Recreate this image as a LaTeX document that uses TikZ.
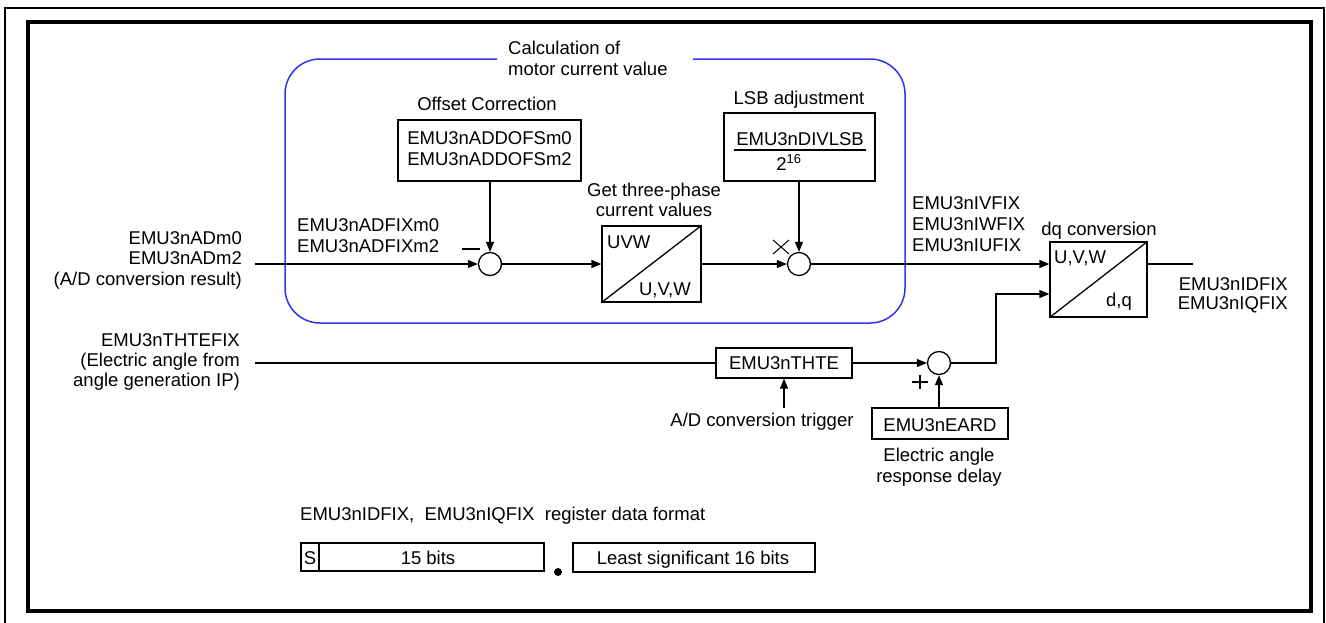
\documentclass[tikz,border=0pt]{standalone}
\usepackage{fontspec}
\setmainfont{Liberation Sans}
\usetikzlibrary{arrows.meta}
\definecolor{frameblue}{RGB}{50,50,235}
\begin{document}
\begin{tikzpicture}[x=1pt,y=-1pt,
  font=\fontsize{18.5}{21}\selectfont,
  lbl/.style={inner sep=0pt, anchor=base},
  lblw/.style={inner sep=0pt, anchor=base west},
  lble/.style={inner sep=0pt, anchor=base east},
  blk/.style={draw, line width=1.3pt, inner sep=0pt},
  sumc/.style={draw, circle, line width=1.3pt, minimum size=23pt, inner sep=0pt},
  con/.style={line width=1.3pt},
  arr/.style={con, -{Triangle[length=10pt,width=8pt]}},
]
\useasboundingbox (0,0) rectangle (1326,622);
% frames
\draw[line width=2pt] (5,650) -- (5,8) -- (1324,8) -- (1324,650);
\draw[line width=4pt] (28,22) rectangle (1311,611);
% blue group
\draw[frameblue, line width=1.5pt, rounded corners=35pt]
  (693,59) -- (905,59) -- (905,323) -- (285,323) -- (285,59) -- (497,59);
\node[lblw] (t1) at (508,54) {Calculation of};
\node[lblw] (t2) at (508,75) {motor current value};
% offset correction
\node[lbl] (ofst) at (487,110) {Offset Correction};
\node[blk, minimum width=183pt, minimum height=61pt] (ofs) at (489.5,150.5) {};
\node[lbl] (ofs1) at (489.5,144) {EMU3nADDOFSm0};
\node[lbl] (ofs2) at (489.5,165) {EMU3nADDOFSm2};
% LSB
\node[lbl] (lsbt) at (799,104) {LSB adjustment};
\node[blk, minimum width=151pt, minimum height=68pt] (lsb) at (799.5,147) {};
\node[lbl] (lsb1) at (800,145) {EMU3nDIVLSB};
\node[lbl] (lsb2) at (789,170) {2\textsuperscript{16}};
\draw[con] (734,150) -- (866,150);
% three-phase
\node[lbl] (gt1) at (654,196) {Get three-phase};
\node[lbl] (gt2) at (654,216) {current values};
\node[blk, minimum width=99pt, minimum height=76pt] (uvw) at (651.5,264) {};
\draw[con] (uvw.south west) -- (uvw.north east);
\node[lblw] (uvwa) at (607,248) {UVW};
\node[lble] (uvwb) at (691,295) {U,V,W};
% sums
\node[sumc] (s1) at (490,264) {};
\node[sumc] (s2) at (799,264) {};
\node[sumc] (s3) at (939,363) {};
% dq
\node[lbl] (dqt) at (1099,235) {dq conversion};
\node[blk, minimum width=97pt, minimum height=75pt] (dq) at (1098.5,279.5) {};
\draw[con] (dq.south west) -- (dq.north east);
\node[lblw] (dqa) at (1054,263) {U,V,W};
\node[lble] (dqb) at (1132,306) {d,q};
% input labels
\node[lble] (a1) at (242,244) {EMU3nADm0};
\node[lble] (a2) at (242,264) {EMU3nADm2};
\node[lble] (a3) at (242,285) {(A/D conversion result)};
\node[lblw] (f1) at (297,231.5) {EMU3nADFIXm0};
\node[lblw] (f2) at (297,252) {EMU3nADFIXm2};
\node[lblw] (v1) at (912,209) {EMU3nIVFIX};
\node[lblw] (v2) at (912,230) {EMU3nIWFIX};
\node[lblw] (v3) at (912,251) {EMU3nIUFIX};
\node[lble] (o1) at (1288,290) {EMU3nIDFIX};
\node[lble] (o2) at (1288,309) {EMU3nIQFIX};
\node[lble] (h1) at (240,346) {EMU3nTHTEFIX};
\node[lble] (h2) at (240,366.5) {(Electric angle from};
\node[lble] (h3) at (240,386.5) {angle generation IP)};
% angle path
\node[blk, minimum width=136pt, minimum height=30pt] (thte) at (784,363) {};
\node[lbl] (thtet) at (784,369) {EMU3nTHTE};
\node[lbl] (trig) at (762,426.5) {A/D conversion trigger};
\node[blk, minimum width=136pt, minimum height=31pt] (eard) at (940,423.5) {};
\node[lbl] (eardt) at (940,431) {EMU3nEARD};
\node[lbl] (e1) at (939,461.5) {Electric angle};
\node[lbl] (e2) at (939,482.5) {response delay};
% connectors
\coordinate (in1) at (255,264);
\coordinate (out) at (1193,264);
\coordinate (in2) at (255,363);
\coordinate (bend) at (996,294);
\coordinate (trigtop) at (784,408);
\draw[arr] (in1) -- (s1.west);
\draw[arr] (s1 |- ofs.south) -- (s1.north);
\draw[arr] (s1.east) -- (uvw.west);
\draw[arr] (uvw.east) -- (s2.west);
\draw[arr] (s2 |- lsb.south) -- (s2.north);
\draw[arr] (s2.east) -- (dq.west |- s2);
\draw[con] (dq.east |- s2) -- (out);
\draw[con] (in2) -- (thte.west);
\draw[arr] (thte.east) -- (s3.west);
\draw[arr] (s3.east) -| (bend) -- (dq.west |- bend);
\draw[arr] (trigtop) -- (thte.south);
\draw[arr] (s3 |- eard.north) -- (s3.south);
% signs
\draw[con] (462,249) -- (480,249);
\draw[line width=1pt] (773,240) -- (789,254) (773,254) -- (789,240);
\draw[line width=1.1pt] (912,382) -- (928,382) (920,375) -- (920,389);
% data format
\node[lblw] (fmt) at (300,520.5) {EMU3nIDFIX,\ \ EMU3nIQFIX\ \ register data format};
\node[blk, minimum width=18pt, minimum height=28pt] (sb) at (310,557) {};
\node[lbl] (sbt) at (310,564) {S};
\node[blk, minimum width=225pt, minimum height=28pt] (b15) at (431.5,557) {};
\node[lbl] (b15t) at (428,564) {15 bits};
\node[circle, fill, inner sep=0pt, minimum size=8pt] (dot) at (558,572) {};
\node[blk, minimum width=242pt, minimum height=29pt] (b16) at (694,557.5) {};
\node[lbl] (b16t) at (693,564) {Least significant 16 bits};
\end{tikzpicture}
\end{document}
